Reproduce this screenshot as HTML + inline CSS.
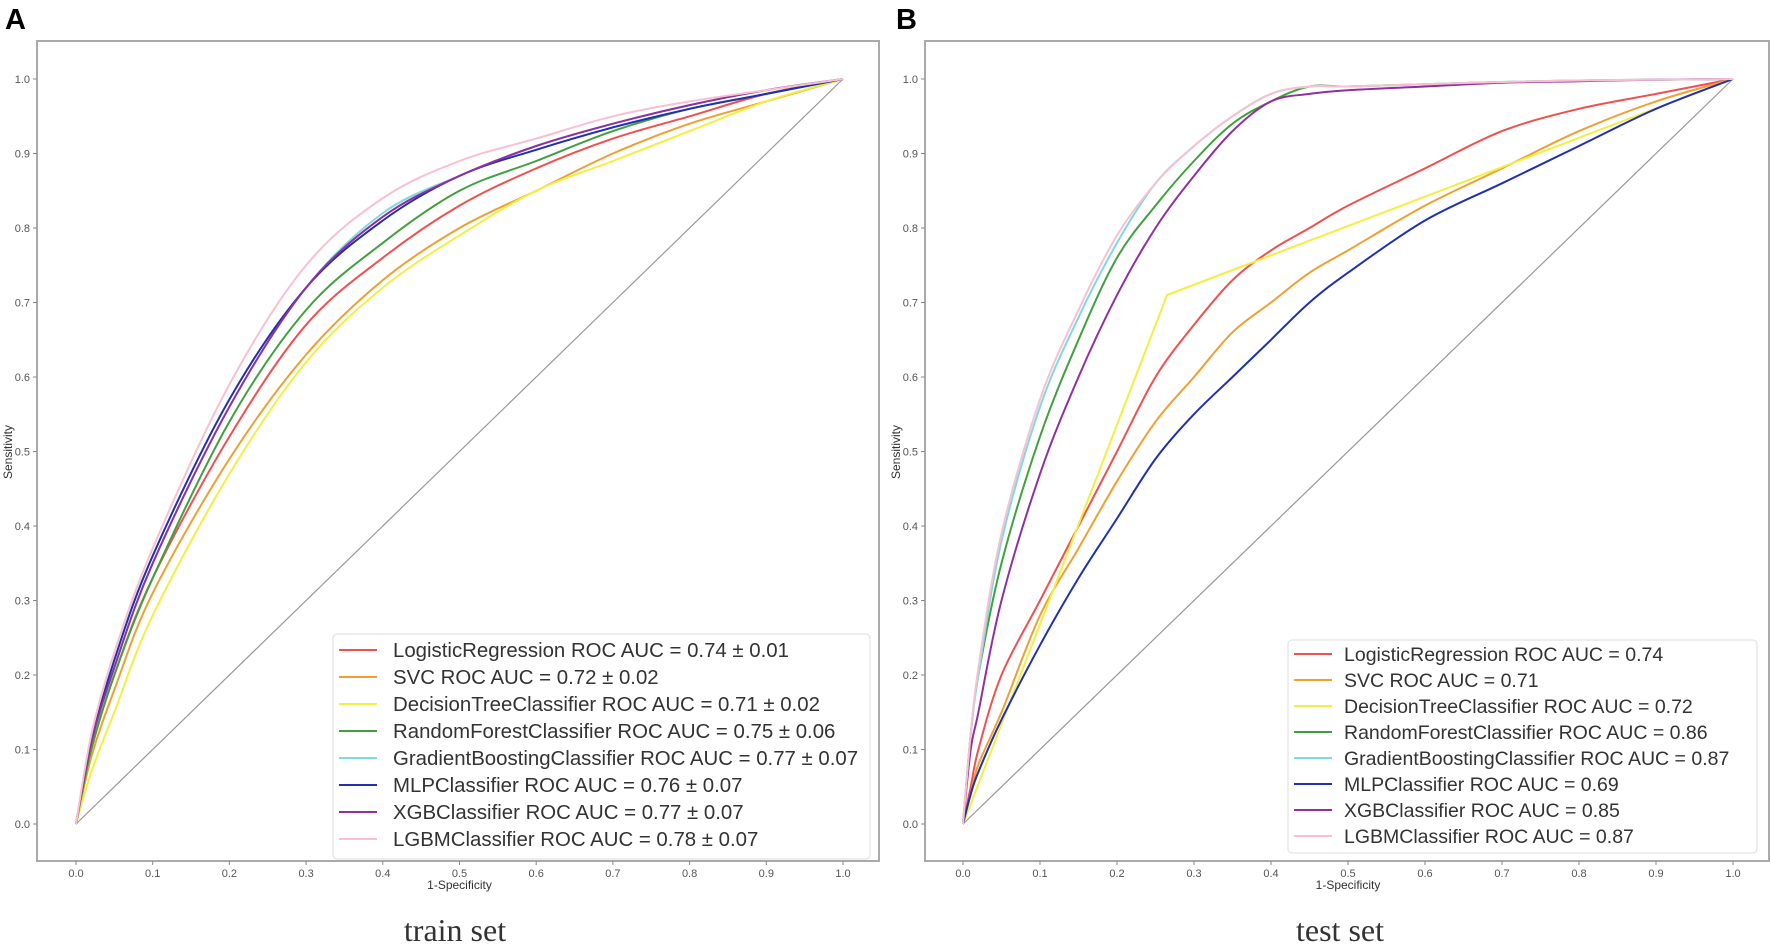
<!DOCTYPE html>
<html><head><meta charset="utf-8"><style>
body{margin:0;background:#fff;}
svg{display:block;font-family:"Liberation Sans",sans-serif;}
</style></head><body>
<svg id="fig" width="1772" height="947" viewBox="0 0 1772 947">
<rect width="1772" height="947" fill="#fff"/>
<text x="5" y="29" font-size="29" font-weight="bold">A</text>
<text x="896" y="29" font-size="29" font-weight="bold">B</text>
<text x="455" y="941" font-size="32" text-anchor="middle" font-family="Liberation Serif,serif" fill="#333">train set</text>
<text x="1340" y="941" font-size="32" text-anchor="middle" font-family="Liberation Serif,serif" fill="#333">test set</text>
</svg>
<script>
const colors=["#f05050","#f0a030","#f0f040","#40a040","#80d8e0","#2030b0","#9030a0","#f8c0d0"];
const namesA=["LogisticRegression ROC AUC = 0.74 ± 0.01","SVC ROC AUC = 0.72 ± 0.02","DecisionTreeClassifier ROC AUC = 0.71 ± 0.02","RandomForestClassifier ROC AUC = 0.75 ± 0.06","GradientBoostingClassifier ROC AUC = 0.77 ± 0.07","MLPClassifier ROC AUC = 0.76 ± 0.07","XGBClassifier ROC AUC = 0.77 ± 0.07","LGBMClassifier ROC AUC = 0.78 ± 0.07"];
const namesB=["LogisticRegression ROC AUC = 0.74","SVC ROC AUC = 0.71","DecisionTreeClassifier ROC AUC = 0.72","RandomForestClassifier ROC AUC = 0.86","GradientBoostingClassifier ROC AUC = 0.87","MLPClassifier ROC AUC = 0.69","XGBClassifier ROC AUC = 0.85","LGBMClassifier ROC AUC = 0.87"];
const ticks=[0,0.1,0.2,0.3,0.4,0.5,0.6,0.7,0.8,0.9,1.0];
const fprA=[0,0.02,0.05,0.1,0.2,0.3,0.4,0.5,0.6,0.7,0.8,0.9,1];
const tprA_LR=[0,0.1,0.2,0.33,0.52,0.67,0.76,0.83,0.88,0.92,0.95,0.98,1];
const tprA_SVC=[0,0.09,0.18,0.31,0.49,0.63,0.73,0.80,0.85,0.90,0.94,0.97,1];
const tprA_DT=[0,0.07,0.15,0.28,0.47,0.62,0.72,0.79,0.85,0.89,0.93,0.97,1];
const tprA_RF=[0,0.1,0.2,0.33,0.54,0.69,0.78,0.85,0.89,0.93,0.96,0.98,1];
const tprA_GB=[0,0.11,0.21,0.35,0.56,0.72,0.82,0.87,0.91,0.94,0.965,0.985,1];
const tprA_MLP=[0,0.11,0.22,0.36,0.57,0.72,0.81,0.87,0.905,0.935,0.96,0.98,1];
const tprA_XGB=[0,0.11,0.21,0.35,0.56,0.72,0.815,0.87,0.91,0.94,0.965,0.985,1];
const tprA_LGBM=[0,0.12,0.23,0.37,0.59,0.75,0.84,0.89,0.92,0.95,0.97,0.985,1];
const fprB=[0,0.01,0.02,0.05,0.1,0.15,0.2,0.25,0.3,0.35,0.4,0.45,0.5,0.6,0.7,0.8,0.9,1];
const tprB_LR=[0,0.05,0.1,0.2,0.3,0.4,0.5,0.6,0.67,0.73,0.77,0.8,0.83,0.88,0.93,0.96,0.98,1];
const tprB_SVC=[0,0.04,0.08,0.15,0.28,0.37,0.46,0.54,0.6,0.66,0.70,0.74,0.77,0.83,0.88,0.93,0.97,1];
const fprB_DT=[0,0.265,1];
const tprB_DT=[0,0.71,1];
const tprB_RF=[0,0.12,0.2,0.35,0.52,0.65,0.76,0.83,0.89,0.94,0.97,0.99,0.99,0.993,0.996,0.998,0.999,1];
const tprB_GB=[0,0.12,0.2,0.38,0.56,0.68,0.78,0.86,0.91,0.95,0.98,0.99,0.99,0.993,0.996,0.998,0.999,1];
const tprB_MLP=[0,0.04,0.07,0.14,0.24,0.33,0.41,0.49,0.55,0.6,0.65,0.70,0.74,0.81,0.86,0.91,0.96,1];
const tprB_XGB=[0,0.1,0.15,0.3,0.47,0.6,0.71,0.8,0.87,0.93,0.97,0.98,0.985,0.99,0.995,0.997,0.999,1];
const tprB_LGBM=[0,0.12,0.21,0.39,0.57,0.69,0.79,0.86,0.91,0.95,0.98,0.99,0.99,0.993,0.996,0.998,0.999,1];

const svg=document.getElementById('fig');
const NS="http://www.w3.org/2000/svg";
function mk(t,a){const e=document.createElementNS(NS,t);for(const k in a)e.setAttribute(k,a[k]);svg.appendChild(e);return e;}
function smooth(pts){let d="M"+pts[0][0]+","+pts[0][1];for(let i=0;i<pts.length-1;i++){const p0=pts[Math.max(0,i-1)],p1=pts[i],p2=pts[i+1],p3=pts[Math.min(pts.length-1,i+2)];
const c1x=p1[0]+(p2[0]-p0[0])/6,c1y=p1[1]+(p2[1]-p0[1])/6,c2x=p2[0]-(p3[0]-p1[0])/6,c2y=p2[1]-(p3[1]-p1[1])/6;
d+=" C"+c1x.toFixed(1)+","+c1y.toFixed(1)+" "+c2x.toFixed(1)+","+c2y.toFixed(1)+" "+p2[0].toFixed(1)+","+p2[1].toFixed(1);}return d;}

function panel(p){
  const X=v=>p.x0+v*(p.x1-p.x0), Y=v=>p.y0-v*(p.y0-p.y1);
  let e=mk('rect',{x:p.fl,y:41,width:p.fr-p.fl,height:861-41,fill:'none',stroke:'#aaa','stroke-width':2});
  
  
  ticks.forEach(t=>{
    let tk=mk('line',{x1:X(t),x2:X(t),y1:861,y2:865,stroke:'#888'});
    
    
    let tl=mk('text',{x:X(t),y:877,'font-size':11,'text-anchor':'middle',fill:'#555'});tl.textContent=t.toFixed(1);
    
    
    let yk=mk('line',{x1:p.fl-4,x2:p.fl,y1:Y(t),y2:Y(t),stroke:'#888'});
    
    
    let yl=mk('text',{x:p.fl-7,y:Y(t)+4,'font-size':11,'text-anchor':'end',fill:'#555'});yl.textContent=t.toFixed(1);
    
    
  });
  let xl=mk('text',{x:(p.x0+p.x1)/2,y:889,'font-size':12,'text-anchor':'middle',fill:'#333'});xl.textContent='1-Specificity';
  
  
  let yt=mk('text',{x:p.ylx,y:452,'font-size':12,'text-anchor':'middle',fill:'#333',transform:'rotate(-90 '+p.ylx+' 452)'});yt.textContent='Sensitivity';
  
  
  let dg=mk('line',{x1:X(0),y1:Y(0),x2:X(1),y2:Y(1),stroke:'#999','stroke-width':1.2});
  
  
  p.series.forEach((s,i)=>{
    const pts=s.x.map((v,j)=>[X(v),Y(s.y[j])]);
    const d=s.x.length<=3?"M"+pts.map(q=>q.join(",")).join(" L"):smooth(pts);
    let l=mk('path',{d:d,fill:'none',stroke:colors[i],'stroke-width':2});
    
    
  });
  let lb=mk('rect',{x:p.lx,y:p.ly,width:p.lw,height:p.lh,rx:4,fill:'#fff','fill-opacity':0.85,stroke:'#ddd'});
  
  
  p.names.forEach((n,i)=>{
    const cy=p.ly+p.r0+i*p.rs;
    let ll=mk('line',{x1:p.lx+6,x2:p.lx+44,y1:cy,y2:cy,stroke:colors[i],'stroke-width':2});
    
    
    let lt=mk('text',{x:p.lx+p.tx,y:cy+7,'font-size':p.fs,fill:'#333'});lt.textContent=n;
    
    
  });
}
panel({id:'train',x0:76,x1:843,y0:824,y1:79,fl:37,fr:879,ylx:12,lx:333,ly:634,lw:537,lh:225,r0:16,rs:27,tx:60,fs:20.4,names:namesA,
 series:[{x:fprA,y:tprA_LR},{x:fprA,y:tprA_SVC},{x:fprA,y:tprA_DT},{x:fprA,y:tprA_RF},{x:fprA,y:tprA_GB},{x:fprA,y:tprA_MLP},{x:fprA,y:tprA_XGB},{x:fprA,y:tprA_LGBM}]});
panel({id:'test',x0:963,x1:1733,y0:824,y1:79,fl:925,fr:1769,ylx:900,lx:1288,ly:640,lw:469,lh:213,r0:14,rs:26,tx:56,fs:19.5,names:namesB,
 series:[{x:fprB,y:tprB_LR},{x:fprB,y:tprB_SVC},{x:fprB_DT,y:tprB_DT},{x:fprB,y:tprB_RF},{x:fprB,y:tprB_GB},{x:fprB,y:tprB_MLP},{x:fprB,y:tprB_XGB},{x:fprB,y:tprB_LGBM}]});
</script>
</body></html>
